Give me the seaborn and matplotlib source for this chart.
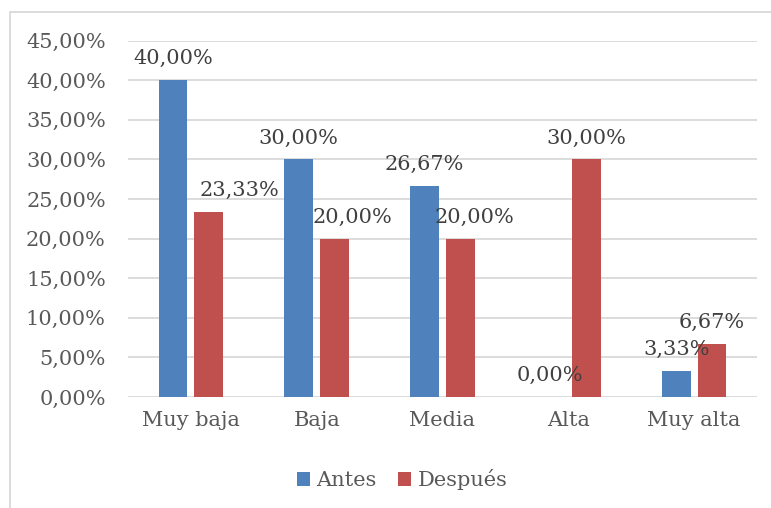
import pandas as pd
import matplotlib
matplotlib.use("Agg")
import matplotlib.pyplot as plt
from matplotlib.patches import Patch
import seaborn as sns

# data
categorias = ["Muy baja", "Baja", "Media", "Alta", "Muy alta"]
antes = [40.00, 30.00, 26.67, 0.00, 3.33]
despues = [23.33, 20.00, 20.00, 30.00, 6.67]
series = ["Antes", "Después"]
colores = ["#4f81bd", "#c0504d"]
yticks = [0, 5, 10, 15, 20, 25, 30, 35, 40, 45]

df = pd.DataFrame({
    "categoria": categorias * 2,
    "serie": [series[0]] * 5 + [series[1]] * 5,
    "valor": antes + despues,
})

sns.set_style("white")
plt.rcParams["font.family"] = ["DejaVu Serif"]
txt = "#595959"
fs = 15

fig = plt.figure(figsize=(7.71, 5.08), dpi=100)
ax = fig.add_axes([128 / 771, 1 - 397 / 508, 629 / 771, (397 - 40.6) / 508])

sns.barplot(data=df, x="categoria", y="valor", hue="serie", palette=colores,
            width=0.57, gap=0.2, ax=ax, legend=False, saturation=1, linewidth=0)

ax.set_ylim(0, 45)
ax.set_xlim(-0.5, 4.5)
ax.set_yticks(yticks)
ax.set_yticklabels([f"{v:.2f}%".replace(".", ",") for v in yticks], color=txt, fontsize=fs)
ax.set_xticklabels(categorias, color=txt, fontsize=fs)
ax.tick_params(axis="y", length=0, pad=16)
ax.tick_params(axis="x", length=0, pad=10)
ax.set_xlabel("")
ax.set_ylabel("")
ax.grid(axis="y", color="#d9d9d9", linewidth=1.3)
ax.set_axisbelow(True)
for s in ax.spines.values():
    s.set_visible(False)

# data labels (red ones nudged right like excel did)
shift_red = [22, 13, 10, 0, 0]
for i, cont in enumerate(ax.containers):
    for j, bar in enumerate(cont):
        v = bar.get_height()
        dx = shift_red[j] if i == 1 else 0
        ax.annotate(f"{v:.2f}%".replace(".", ","),
                    (bar.get_x() + bar.get_width() / 2, v),
                    xytext=(dx, 11.5), textcoords="offset points",
                    ha="center", va="baseline", color="#404040", fontsize=fs)

# legend
handles = [Patch(facecolor=c, edgecolor="none") for c in colores]
fig.legend(handles, series, loc="center", bbox_to_anchor=(402 / 771, 1 - 480 / 508),
           ncol=2, frameon=False, fontsize=fs, labelcolor=txt,
           handlelength=0.65, handleheight=0.65, handletextpad=0.3, columnspacing=1.0)

# chart area border (runs off the right and bottom edge)
fig.patches.append(plt.Rectangle((10 / 771, -0.1), 1.5, 1.1 - 12 / 508, transform=fig.transFigure,
                                 fill=False, edgecolor="#d9d9d9", linewidth=1.3))

fig.savefig("out.png", dpi=100)
